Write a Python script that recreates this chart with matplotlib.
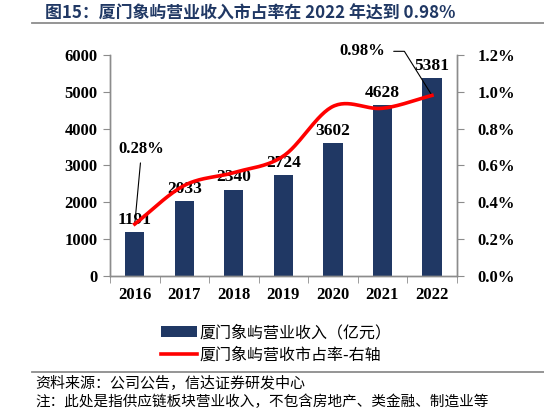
import numpy as np
import matplotlib.pyplot as plt
from matplotlib.lines import Line2D
from matplotlib.ticker import FuncFormatter

years = ['2016', '2017', '2018', '2019', '2020', '2021', '2022']
revenue = [1191, 2033, 2340, 2724, 3602, 4628, 5381]   # 营业收入（亿元）
share = [0.28, 0.49, 0.56, 0.65, 0.92, 0.91, 0.98]     # 市占率（%）

title = '图15：厦门象屿营业收入市占率在 2022 年达到 0.98%'
bar_name = '厦门象屿营业收入（亿元）'
line_name = '厦门象屿营收市占率-右轴'
source = '资料来源：公司公告，信达证券研发中心'
note = '注：此处是指供应链板块营业收入，不包含房地产、类金融、制造业等'

NAVY = '#203864'
GREY = '#8c8c8c'
CJK = ['Noto Sans CJK SC', 'DejaVu Sans']
NUM = 'Liberation Serif'


def smooth(y, n=30):
    # Catmull-Rom 曲线，模仿 Excel 的平滑线
    y = np.asarray(y, dtype=float)
    p = np.concatenate([[2*y[0]-y[1]], y, [2*y[-1]-y[-2]]])
    xs, ys = [], []
    for i in range(len(y) - 1):
        t = np.linspace(0, 1, n, endpoint=False)
        p0, p1, p2, p3 = p[i], p[i+1], p[i+2], p[i+3]
        m1 = (p2 - p0) / 2
        m2 = (p3 - p1) / 2
        h = (2*t**3 - 3*t**2 + 1)*p1 + (t**3 - 2*t**2 + t)*m1 \
            + (-2*t**3 + 3*t**2)*p2 + (t**3 - t**2)*m2
        xs.append(i + t)
        ys.append(h)
    xs.append([len(y) - 1])
    ys.append([y[-1]])
    return np.concatenate(xs), np.concatenate(ys)


fig = plt.figure(figsize=(5.44, 4.11), dpi=100)
ax = fig.add_axes([110/544, 1-275.5/411, 346.7/544, 220.5/411])
ax2 = ax.twinx()

x = np.arange(len(years))
bars = ax.bar(x, revenue, width=0.39, color=NAVY, label=bar_name, zorder=2)
for xi, v in zip(x, revenue):
    ax.annotate(str(v), (xi, v), xytext=(0, 3), textcoords='offset points',
                ha='center', va='bottom', fontsize=12.5, fontweight='bold',
                family=NUM, zorder=3)

sx, sy = smooth(share)
line, = ax2.plot(sx, sy, color='#ff0000', lw=2.6, label=line_name, zorder=4)

ax.set_xlim(-0.5, len(years) - 0.5)
ax.set_ylim(0, 6000)
ax.set_yticks(np.arange(0, 6001, 1000))
ax2.set_ylim(0, 1.2)
ax2.set_yticks(np.arange(0, 1.21, 0.2))
ax2.yaxis.set_major_formatter(FuncFormatter(lambda v, p: '{:.1f}%'.format(v)))

ax.set_xticks(x)
ax.set_xticklabels(years)
ax.set_xticks(np.arange(-0.5, len(years)), minor=True)
ax.tick_params(axis='x', which='major', length=0, pad=8)
ax.tick_params(axis='x', which='minor', length=5, color=GREY, direction='out')
ax.tick_params(axis='y', length=5, color=GREY, direction='out', pad=4)
ax2.tick_params(axis='y', length=5, color=GREY, direction='out', pad=10)

for a in (ax, ax2):
    a.spines['top'].set_visible(False)
    for s in ('left', 'right', 'bottom'):
        a.spines[s].set_color(GREY)
        a.spines[s].set_linewidth(1.0)
    for lab in a.get_xticklabels() + a.get_yticklabels():
        lab.set_family(NUM)
        lab.set_fontweight('bold')
        lab.set_fontsize(12)
ax2.set_zorder(ax.get_zorder() + 1)
ax2.patch.set_visible(False)

# 数据标注
ax2.annotate('0.28%', (0, share[0]), xytext=(5, 48), textcoords='offset points',
             ha='center', va='bottom', fontsize=12, fontweight='bold', family=NUM,
             arrowprops=dict(arrowstyle='-', color='black', lw=0.8,
                             shrinkA=2, shrinkB=0))
ax2.annotate('0.98%', (6, share[-1]), xytext=(-50, 26), textcoords='offset points',
             ha='center', va='bottom', fontsize=12, fontweight='bold', family=NUM,
             arrowprops=dict(arrowstyle='-', color='black', lw=0.8,
                             connectionstyle='angle,angleA=0,angleB=122,rad=0',
                             shrinkA=4, shrinkB=0))

# 图例
leg = fig.legend(handles=[bars, line], loc='upper left',
                 bbox_to_anchor=(147/544, 1-310/411), frameon=False,
                 prop={'family': CJK, 'size': 11.5}, handlelength=2.25,
                 handletextpad=0.15, labelspacing=0.35)

# 标题、分隔线、来源
fig.text(45/544, 1-14/411, title, ha='left', va='center', fontsize=12.2,
         fontweight='bold', color=NAVY, family=CJK)
fig.add_artist(Line2D([32/544, 1], [1-23.5/411]*2, color=GREY, lw=1.3))
fig.add_artist(Line2D([32/544, 1], [1-372/411]*2, color=GREY, lw=1.3))
fig.text(35/544, 1-384/411, source, ha='left', va='center', fontsize=10.8,
         style='italic', family=CJK)
fig.text(35/544, 1-402/411, note, ha='left', va='center', fontsize=10.5,
         style='italic', family=CJK)

fig.savefig('out.png', dpi=100)
